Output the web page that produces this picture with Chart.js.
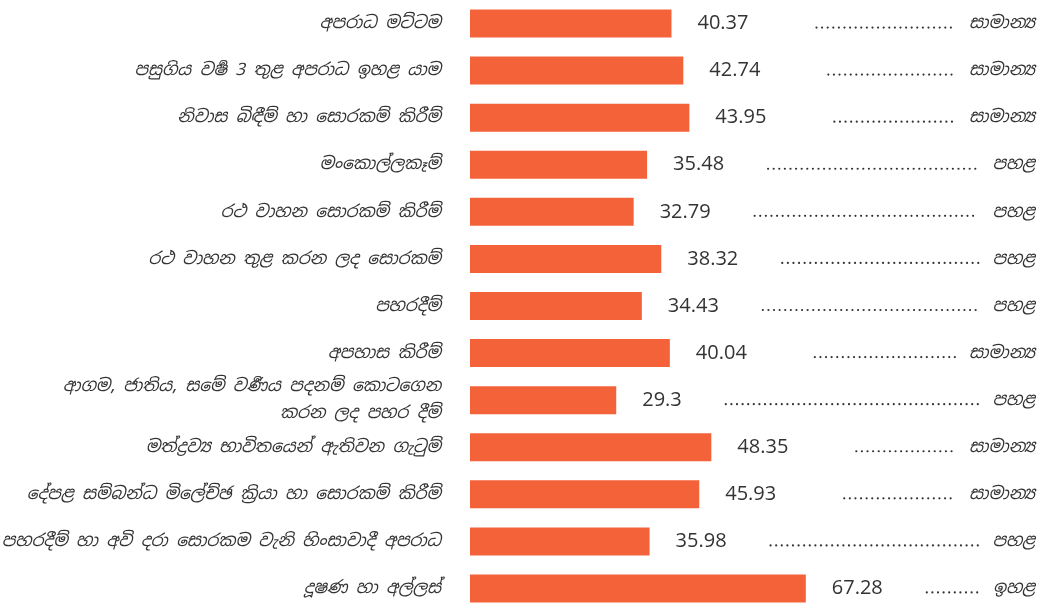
<!DOCTYPE html>
<html>
<head>
<meta charset="utf-8">
<script src="https://cdn.jsdelivr.net/npm/chart.js@4.4.1/dist/chart.umd.min.js"></script>
<style>
  html, body { margin: 0; padding: 0; background: #fff; overflow: hidden; }
  #wrap { width: 1042px; height: 612px; }
</style>
</head>
<body>
<div id="wrap"><canvas id="chartCanvas"></canvas></div>
<script>
const categories = [
    'අපරාධ මට්ටම',
    'පසුගිය වර්\u200Dෂ 3 තුළ අපරාධ ඉහළ යාම',
    'නිවාස බිඳීම් හා සොරකම් කිරීම්',
    'මංකොල්ලකෑම්',
    'රථ වාහන සොරකම් කිරීම්',
    'රථ වාහන තුළ කරන ලද සොරකම්',
    'පහරදීම්',
    'අපහාස කිරීම්',
    ['ආගම, ජාතිය, සමේ වර්\u200Dණය පදනම් කොටගෙන', 'කරන ලද පහර දීම්'],
    'මත්ද්\u200Dරව්\u200Dය භාවිතයෙන් ඇතිවන ගැටුම්',
    'දේපළ සම්බන්ධ මිලේච්ඡ ක්\u200Dරියා හා සොරකම් කිරීම්',
    'පහරදීම් හා අවි දරා සොරකම වැනි හිංසාවාදී අපරාධ',
    'දූෂණ හා අල්ලස්'
];
const scores = [40.37, 42.74, 43.95, 35.48, 32.79, 38.32, 34.43, 40.04, 29.3, 48.35, 45.93, 35.98, 67.28];
const ratings = [
    'සාමාන්\u200Dය', 'සාමාන්\u200Dය', 'සාමාන්\u200Dය', 'පහළ', 'පහළ', 'පහළ', 'පහළ',
    'සාමාන්\u200Dය', 'පහළ', 'සාමාන්\u200Dය', 'සාමාන්\u200Dය', 'පහළ', 'ඉහළ'
];

const sinhalaFont = '"Noto Sans Sinhala", "Noto Sans", sans-serif';
const numberFont = '"Open Sans", "Noto Sans", sans-serif';
const textColor = '#333333';

// value label, dotted leader and rating word on each row
const rowLabels = {
    id: 'rowLabels',
    afterDatasetsDraw(chart) {
        const ctx = chart.ctx;
        const meta = chart.getDatasetMeta(0);
        const right = chart.width - 7;
        ctx.save();
        ctx.fillStyle = textColor;
        ctx.textBaseline = 'middle';
        meta.data.forEach((bar, i) => {
            const y = bar.y;
            ctx.font = '20px ' + numberFont;
            ctx.textAlign = 'left';
            const txt = String(scores[i]);
            const vx = bar.x + 26;
            ctx.fillText(txt, vx, y);
            const vEnd = vx + ctx.measureText(txt).width;

            ctx.font = 'italic 17px ' + sinhalaFont;
            ctx.textAlign = 'right';
            ctx.fillText(ratings[i], right, y);
            const rStart = right - ctx.measureText(ratings[i]).width;

            const gap = ratings[i] === ratings[0] ? 68 : 44;
            let dx = vEnd + gap;
            const dEnd = rStart - 14;
            ctx.beginPath();
            while (dx <= dEnd) {
                ctx.moveTo(dx + 1.1, y + 4);
                ctx.arc(dx, y + 4, 1.1, 0, Math.PI * 2);
                dx += 5.6;
            }
            ctx.fill();
        });
        ctx.restore();
    }
};

const data = {
    labels: categories,
    datasets: [{
        data: scores,
        backgroundColor: '#F4623A',
        barPercentage: 0.595,
        categoryPercentage: 1
    }]
};

const config = {
    type: 'bar',
    data: data,
    options: {
        indexAxis: 'y',
        responsive: true,
        maintainAspectRatio: false,
        animation: false,
        layout: { padding: { left: 0, right: 3, top: 0, bottom: 0 } },
        plugins: {
            legend: { display: false },
            tooltip: { enabled: false }
        },
        scales: {
            x: {
                display: false,
                min: 0,
                max: 114
            },
            y: {
                grid: { display: false, drawTicks: false },
                border: { display: false },
                ticks: {
                    autoSkip: false,
                    padding: 29,
                    color: textColor,
                    font: { family: sinhalaFont, size: 17, style: 'italic', lineHeight: 1.6 }
                },
                afterFit(scale) {
                    scale.width = 470;
                    scale.paddingTop = 0;
                    scale.paddingBottom = 0;
                }
            }
        }
    },
    plugins: [rowLabels]
};

let myChart = new Chart(document.getElementById('chartCanvas'), config);
</script>
</body>
</html>
